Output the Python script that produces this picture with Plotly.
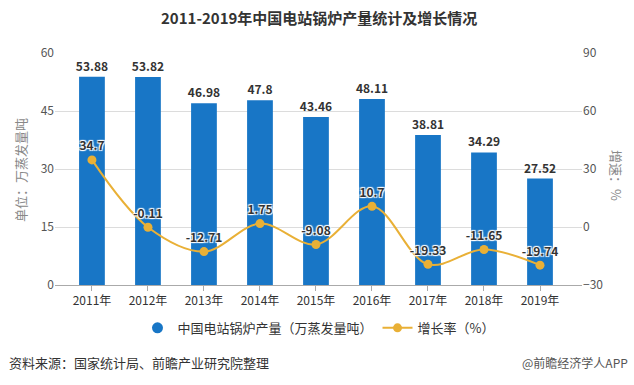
import plotly.graph_objects as go

years = ["2011年", "2012年", "2013年", "2014年", "2015年", "2016年", "2017年", "2018年", "2019年"]
output = [53.88, 53.82, 46.98, 47.8, 43.46, 48.11, 38.81, 34.29, 27.52]
growth = [34.7, -0.11, -12.71, 1.75, -9.08, 10.7, -19.33, -11.65, -19.74]

bar_name = "中国电站锅炉产量（万蒸发量吨）"
line_name = "增长率（%）"
title = "2011-2019年中国电站锅炉产量统计及增长情况"
left_title = "单位：万蒸发量吨"
right_title = "增速：%"
source = "资料来源：国家统计局、前瞻产业研究院整理"
brand = "@前瞻经济学人APP"

FONT = "Noto Sans CJK SC, Microsoft YaHei, sans-serif"
BAR_C = "#1876c6"
LINE_C = "#e9b036"

fig = go.Figure()
fig.add_trace(go.Bar(
    x=years, y=output, name=bar_name, showlegend=False,
    marker=dict(color=BAR_C, line=dict(width=0)),
    width=0.46,
    text=[str(v) for v in output], textposition="outside", constraintext="none",
    textfont=dict(size=12, color="#333", family=FONT, weight="bold"),
    cliponaxis=False,
))
# legend entry for the bar series (round symbol as in the reference)
fig.add_trace(go.Scatter(
    x=[None], y=[None], name=bar_name, mode="markers",
    marker=dict(color=BAR_C, size=11, symbol="circle"),
))
fig.add_trace(go.Scatter(
    x=years, y=growth, name=line_name, yaxis="y2",
    mode="lines+markers+text",
    line=dict(color=LINE_C, width=2, shape="spline", smoothing=1.0),
    marker=dict(color=LINE_C, size=9),
    text=[str(v) for v in growth], textposition="top center",
    textfont=dict(size=12, color="#333", family=FONT, weight="bold",
                  shadow="1px 1px 1px #fff, -1px -1px 1px #fff, 1px -1px 1px #fff, -1px 1px 1px #fff"),
    cliponaxis=False,
))

fig.update_layout(
    width=634, height=385,
    margin=dict(l=55, r=52, t=53, b=100),
    paper_bgcolor="white", plot_bgcolor="white",
    font=dict(family=FONT, color="#555", size=12),
    showlegend=True,
    legend=dict(orientation="h", x=0.5, xanchor="center", y=-0.185, yanchor="middle",
                font=dict(size=13, color="#333"), itemwidth=30, traceorder="normal"),
    xaxis=dict(type="category", range=[-0.66, 8.75], showgrid=False,
               showline=True, linecolor="#aaa", linewidth=1,
               ticks="outside", ticklen=5, tickcolor="#aaa",
               tickfont=dict(size=12, color="#333")),
    yaxis=dict(range=[0, 60], dtick=15, tick0=0, showgrid=True, gridcolor="#dcdcdc",
               zeroline=False, showline=False, ticks="", tickfont=dict(size=12, color="#555")),
    yaxis2=dict(range=[-30, 90], dtick=30, tick0=-30, overlaying="y", side="right",
                showgrid=False, zeroline=False, showline=False, ticks="",
                tickfont=dict(size=12, color="#555")),
    bargap=0.5,
)

fig.add_annotation(text="<b>" + title + "</b>", xref="paper", yref="paper",
                   x=0.5, y=(285 - 18) / 232, xanchor="center", yanchor="middle",
                   showarrow=False, font=dict(size=15, color="#333", family=FONT))
fig.add_annotation(text=left_title, xref="paper", yref="paper",
                   x=(20 - 55) / 527, y=(285 - 170) / 232, xanchor="center", yanchor="middle",
                   textangle=-90, showarrow=False, font=dict(size=13, color="#888", family=FONT))
fig.add_annotation(text=right_title, xref="paper", yref="paper",
                   x=(617 - 55) / 527, y=(285 - 175) / 232, xanchor="center", yanchor="middle",
                   textangle=90, showarrow=False, font=dict(size=13, color="#888", family=FONT))
fig.add_annotation(text=source, xref="paper", yref="paper",
                   x=(7 - 55) / 527, y=(285 - 362) / 232, xanchor="left", yanchor="middle",
                   showarrow=False, font=dict(size=13, color="#333", family=FONT))
fig.add_annotation(text=brand, xref="paper", yref="paper",
                   x=(630 - 55) / 527, y=(285 - 362) / 232, xanchor="right", yanchor="middle",
                   showarrow=False, font=dict(size=12, color="#555", family=FONT))

fig.write_html("out.html", config={"displayModeBar": False},
               post_script="document.body.style.margin='0';")
